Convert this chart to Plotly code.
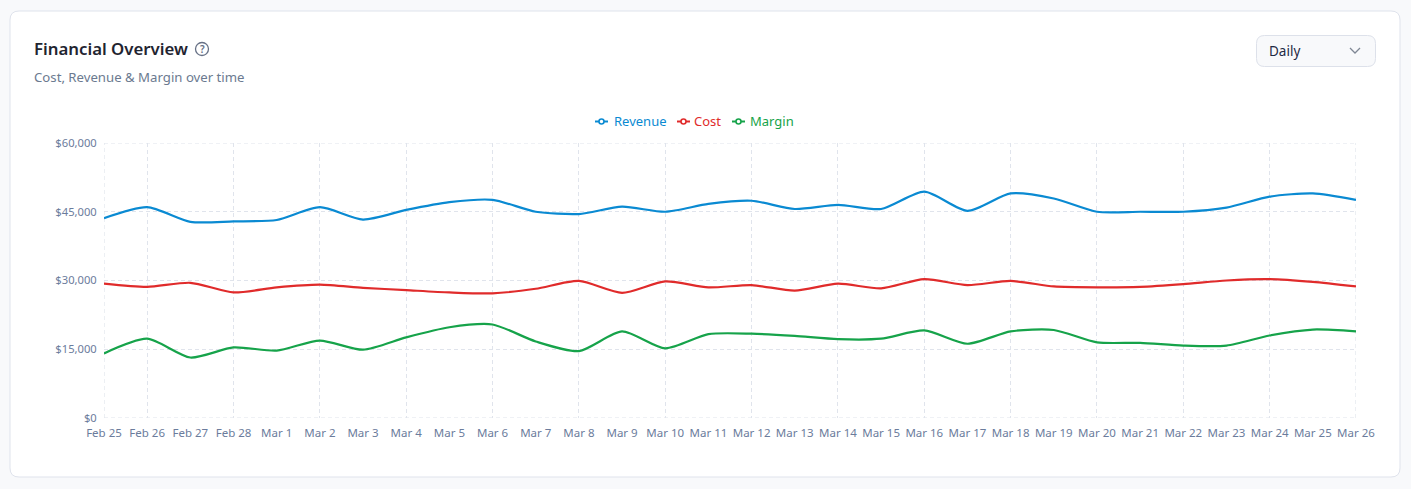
import plotly.graph_objects as go

W, H = 1411, 489
dates = ["Feb 25","Feb 26","Feb 27","Feb 28","Mar 1","Mar 2","Mar 3","Mar 4","Mar 5","Mar 6","Mar 7","Mar 8","Mar 9","Mar 10","Mar 11","Mar 12","Mar 13","Mar 14","Mar 15","Mar 16","Mar 17","Mar 18","Mar 19","Mar 20","Mar 21","Mar 22","Mar 23","Mar 24","Mar 25","Mar 26"]
revenue = [43600,46000,42800,42900,43200,46000,43300,45400,47100,47600,45000,44500,46100,45000,46700,47400,45600,46500,45600,49400,45200,49000,47900,45000,45000,45000,45900,48300,49000,47600]
cost = [29300,28600,29500,27400,28500,29100,28400,27900,27400,27200,28200,29900,27300,29800,28500,29000,27800,29300,28300,30300,29000,29900,28700,28500,28600,29200,30000,30300,29700,28700]
margin = [14100,17300,13200,15400,14700,16900,14900,17600,19800,20400,16700,14600,18900,15200,18300,18400,17900,17200,17300,19100,16200,18900,19200,16500,16400,15800,15800,18000,19300,18900]
y_ticks = [0,15000,30000,45000,60000]
y_labels = ["$0","$15,000","$30,000","$45,000","$60,000"]
series = [("Revenue", revenue, "#0a8ad2", 595, 613), ("Cost", cost, "#e02b2b", 677, 693), ("Margin", margin, "#16a34a", 732, 749)]

FONT = "Noto Sans"
GRID = "#e0e4ec"
DASH = "4px,3px"
px = lambda v: v / W
py = lambda v: 1 - v / H

def rrect(x0, y0, x1, y1, r):
    a, b, c, d = px(x0), py(y0), px(x1), py(y1)
    rx, ry = r / W, r / H
    return (f"M{a+rx},{b} L{c-rx},{b} Q{c},{b} {c},{b-ry} L{c},{d+ry} Q{c},{d} {c-rx},{d} "
            f"L{a+rx},{d} Q{a},{d} {a},{d+ry} L{a},{b-ry} Q{a},{b} {a+rx},{b} Z")

def paper_shape(**k):
    return dict(xref="paper", yref="paper", **k)

def text(x, y, s, size, color, anchor="left", weight=None):
    f = dict(family=FONT, size=size, color=color)
    if weight:
        f["weight"] = weight
    return dict(xref="paper", yref="paper", x=px(x), y=py(y), text=s, showarrow=False,
                xanchor=anchor, yanchor="middle", font=f, borderpad=0)

fig = go.Figure()
xs = list(range(len(dates)))
for name, vals, col, _, _ in series:
    fig.add_trace(go.Scatter(x=xs, y=vals, name=name, mode="lines", showlegend=False,
                             line=dict(color=col, width=2.2, shape="spline", smoothing=0.7)))

shapes = [
    paper_shape(type="path", path=rrect(10, 11, 1400, 477, 9), fillcolor="white",
                line=dict(color="#dfe3ec", width=1), layer="below"),
    paper_shape(type="path", path=rrect(1256.5, 35.5, 1375.5, 66.5, 8), fillcolor="#f8f9fb",
                line=dict(color="#dde1ea", width=1), layer="below"),
    paper_shape(type="path", path=f"M{px(1350)},{py(48)} L{px(1355)},{py(53)} L{px(1360)},{py(48)}",
                line=dict(color="#7f8794", width=1.3)),
    paper_shape(type="circle", x0=px(195.5), x1=px(208.5), y0=py(42.5), y1=py(55.5),
                line=dict(color="#667085", width=1.3)),
]
# plotly drops gridlines that sit exactly on the range ends, so the frame is drawn on the same scales
edge = dict(color=GRID, width=1.2, dash=DASH)
for yv in (y_ticks[0], y_ticks[-1]):
    shapes.append(dict(type="line", xref="x", yref="y", x0=xs[0], x1=xs[-1], y0=yv, y1=yv, line=edge, layer="below"))
for xv in (xs[0], xs[-1]):
    shapes.append(dict(type="line", xref="x", yref="y", x0=xv, x1=xv, y0=y_ticks[0], y1=y_ticks[-1], line=edge, layer="below"))

annotations = [
    text(33, 49, "Financial Overview", 16.8, "#1f2430", weight=600),
    text(202, 49, "?", 10, "#667085", anchor="center", weight=600),
    text(33, 77, "Cost, Revenue &amp; Margin over time", 13.2, "#6b7a90"),
    text(1268, 51, "Daily", 13.5, "#1f2a44"),
]
for name, _, col, lx, tx in series:
    shapes.append(paper_shape(type="line", x0=px(lx), x1=px(lx + 13), y0=py(121.5), y1=py(121.5),
                              line=dict(color=col, width=2)))
    shapes.append(paper_shape(type="circle", x0=px(lx + 4), x1=px(lx + 9), y0=py(119), y1=py(124),
                              fillcolor="white", line=dict(color=col, width=1.6)))
    annotations.append(text(tx, 121, name, 13, col))

fig.update_layout(
    width=W, height=H, margin=dict(l=0, r=0, t=0, b=0, pad=0, autoexpand=False), autosize=False,
    paper_bgcolor="#f8f9fb", plot_bgcolor="rgba(0,0,0,0)", showlegend=False,
    font=dict(family=FONT, size=12, color="#6b7a90"),
    shapes=shapes, annotations=annotations,
    xaxis=dict(domain=[px(104), px(1356)], range=[0, 29], tickmode="array", tickvals=xs, ticktext=dates,
               tickangle=0, showgrid=False, zeroline=False, showline=False,
               ticks="outside", ticklen=4, tickcolor="rgba(0,0,0,0)",
               tickfont=dict(family=FONT, size=11.5, color="#6b7c9c"),
               minor=dict(tickmode="array", tickvals=xs[1::2], showgrid=True, gridcolor=GRID,
                          griddash=DASH, gridwidth=1.2, ticks="")),
    yaxis=dict(domain=[py(418), py(143)], range=[0, 60000], tickmode="array", tickvals=y_ticks, ticktext=y_labels,
               showgrid=True, gridcolor=GRID, griddash=DASH, gridwidth=1.2, zeroline=False, showline=False,
               ticks="outside", ticklen=4, tickcolor="rgba(0,0,0,0)",
               tickfont=dict(family=FONT, size=11.2, color="#6b7c9c")),
)
fig.write_html("out.html", config={"displayModeBar": False},
               post_script="document.body.style.margin='0';document.body.style.background='#f8f9fb';")
